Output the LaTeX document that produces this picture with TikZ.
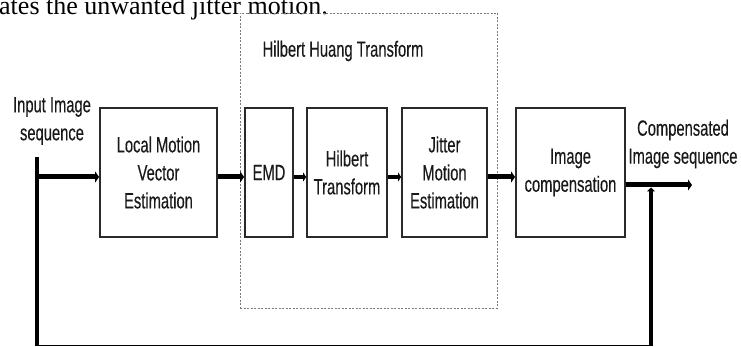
\documentclass[tikz,border=0pt]{standalone}
\usepackage{fontspec}
\setmainfont{Liberation Sans}
\newfontfamily\narrowsf{Liberation Sans}[FakeStretch=0.67,FakeBold=0.3]
\newfontfamily\timesrm{Liberation Serif}
\usetikzlibrary{arrows.meta}
\definecolor{boxline}{HTML}{2A2A2A}
\definecolor{dashgray}{HTML}{7A7A7A}

\begin{document}
\begin{tikzpicture}[x=1pt,y=-1pt,
    blk/.style={draw=boxline,line width=1.8pt,align=center,inner sep=0pt,
        minimum height=129pt,text=black!90,font=\narrowsf\fontsize{22}{28}\selectfont},
    lbl/.style={align=center,inner sep=0pt,text=black!90,
        font=\narrowsf\fontsize{22}{28}\selectfont},
    fat/.style={line width=5pt,-{Triangle[length=4pt,width=11pt]}},
    mid/.style={line width=4pt,-{Triangle[length=3pt,width=9pt]}},
    back/.style={line width=3.5pt}]
    \useasboundingbox (0,0) rectangle (741,347);

    \node[anchor=base west,inner sep=0pt,font=\timesrm\fontsize{26}{30}\selectfont] (head) at (-1,15) {ates the unwanted jitter motion.};

    \node[draw=dashgray,line width=0.8pt,dash pattern=on 2pt off 1.5pt,
        minimum width=257pt,minimum height=295pt,inner sep=0pt] (hht) at (368.5,160.5) {};
    \node[lbl] (hhttitle) at (343,51) {Hilbert Huang Transform};

    \node[blk,minimum width=117pt] (lmve) at (158.5,172.5) {Local Motion\\Vector\\Estimation};
    \node[blk,minimum width=48pt] (emd) at (269,172.5) {EMD};
    \node[blk,minimum width=80pt] (ht) at (347,172.5) {Hilbert\\Transform};
    \node[blk,minimum width=85pt] (jme) at (444.5,172.5) {Jitter\\Motion\\Estimation};
    \node[blk,minimum width=109pt] (ic) at (570.5,172.5) {Image\\compensation};

    \node[lbl] (inlbl) at (52,121) {Input Image\\sequence};
    \node[lbl] (outlbl) at (683,144) {Compensated\\Image sequence};

    \coordinate (in0) at (37,157);
    \coordinate (in1) at (37,177);
    \coordinate (fb0) at (37,345.5);
    \coordinate (fb1) at (651,345.5);
    \coordinate (fbtop) at (651,187.5);
    \coordinate (out) at (692,185);

    \draw[fat] (in1) -- (in1 -| lmve.west);
    \draw[fat] (lmve.east |- in1) -- (in1 -| emd.west);
    \draw[mid] (emd.east |- in1) -- (in1 -| ht.west);
    \draw[mid] (ht.east |- in1) -- (in1 -| jme.west);
    \draw[fat] (jme.east |- in1) -- (in1 -| ic.west);
    \draw[fat] (ic.east |- out) -- (out);

    \draw[back] (in0) -- (fb0);
    \draw[line width=1.6pt] (fb0) -- (fb1);
    \draw[back,-{Triangle[length=4pt,width=8pt]}] (fb1) -- (fbtop);
\end{tikzpicture}
\end{document}
